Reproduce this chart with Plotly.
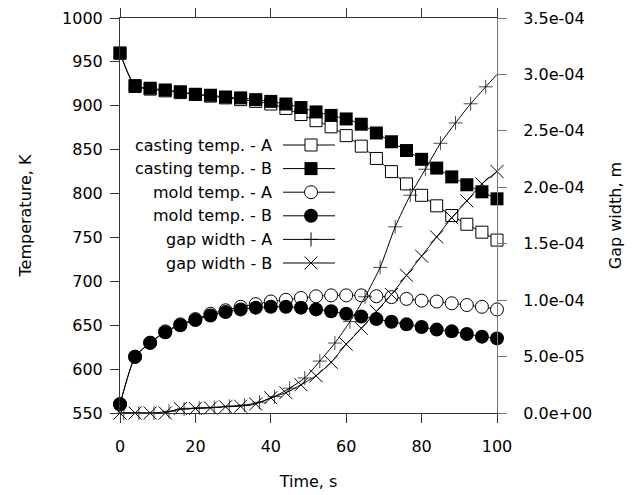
import plotly.graph_objects as go

# ---------------- data ----------------
time = [0, 4, 8, 12, 16, 20, 24, 28, 32, 36, 40, 44, 48, 52, 56, 60, 64, 68, 72, 76, 80, 84, 88, 92, 96, 100]

casting_A = [960, 922, 919, 917, 915, 913, 911, 909, 907, 905, 902, 897, 890, 883, 876, 866,
             854, 840, 825, 811, 798, 786, 775, 765, 756, 747]
casting_B = [960, 923, 920, 918, 916, 913, 912, 910, 909, 907, 905, 902, 898, 893, 889, 885,
             879, 869, 859, 849, 839, 829, 819, 810, 802, 794]
mold_A = [560, 614, 630, 643, 651, 657, 663, 667, 671, 674, 677, 679, 681, 683, 684, 684,
          684, 683, 682, 680, 678, 677, 675, 673, 671, 668]
mold_B = [560, 614, 630, 642, 650, 656, 661, 665, 668, 670, 671, 671, 670, 668, 666, 663,
          660, 657, 654, 651, 648, 645, 643, 640, 637, 635]

gapA_time = [1, 5, 9, 13, 17, 21, 25, 29, 33, 37, 41, 45, 49, 53, 57, 61, 65, 69, 73, 77,
             81, 85, 89, 93, 97, 100]
gap_A = [0, 0, 0, 1.5e-6, 3.5e-6, 4.5e-6, 5e-6, 6e-6, 7e-6, 9.5e-6, 1.45e-5, 2.2e-5, 3.1e-5,
         4.6e-5, 6.2e-5, 8.1e-5, 1.03e-4, 1.29e-4, 1.65e-4, 1.93e-4, 2.16e-4, 2.39e-4, 2.57e-4,
         2.74e-4, 2.89e-4, 3.0e-4]
gap_B = [0, 0, 0, 0, 4e-6, 4e-6, 4.5e-6, 5.5e-6, 6e-6, 8e-6, 1.35e-5, 1.8e-5, 2.5e-5, 3.3e-5,
         4.5e-5, 6.1e-5, 7.5e-5, 9.0e-5, 1.05e-4, 1.22e-4, 1.39e-4, 1.56e-4, 1.73e-4, 1.88e-4,
         2.03e-4, 2.14e-4]

legend_labels = ["casting temp. - A", "casting temp. - B", "mold temp. - A",
                 "mold temp. - B", "gap width - A", "gap width - B"]

left_ticks = list(range(550, 1001, 50))
right_ticks = [i * 5e-5 for i in range(8)]
x_ticks = [0, 20, 40, 60, 80, 100]

# ---------------- styles ----------------
FONT = "DejaVu Sans, Liberation Sans, Arial, sans-serif"
FS = 16
styles = [
    dict(symbol="square", size=12, color="white", line=dict(color="black", width=1)),
    dict(symbol="square", size=13, color="black", line=dict(color="black", width=0)),
    dict(symbol="circle", size=13, color="white", line=dict(color="black", width=1)),
    dict(symbol="circle", size=14, color="black", line=dict(color="black", width=0)),
    dict(symbol="cross-thin-open", size=10, color="black", line=dict(color="black", width=1)),
    dict(symbol="x-thin-open", size=13, color="black", line=dict(color="black", width=1)),
]
LINE = dict(color="black", width=1, shape="spline", smoothing=0.6)

fig = go.Figure()

series = [
    (time, casting_A, "y", styles[0]),
    (time, casting_B, "y", styles[1]),
    (time, mold_A, "y", styles[2]),
    (time, mold_B, "y", styles[3]),
    (gapA_time, gap_A, "y2", styles[4]),
    (time, gap_B, "y2", styles[5]),
]
for i, (xs, ys, yax, st) in enumerate(series):
    mk = dict(st)
    if i == 4:
        # last point is the line end at t=100 (no symbol there)
        mk["size"] = [st["size"]] * (len(xs) - 1) + [0]
    fig.add_trace(go.Scatter(x=xs, y=ys, yaxis=yax, mode="lines+markers",
                             line=LINE, marker=mk, cliponaxis=False,
                             showlegend=False, name=legend_labels[i]))

# ---------------- custom legend (text left, sample right) ----------------
# overlay axis in plot-pixel units: x 0..377 (left->right), y 0..395 (top->bottom)
row_y0, row_dy = 127, 23.6
for i, lab in enumerate(legend_labels):
    yy = row_y0 + i * row_dy
    fig.add_trace(go.Scatter(x=[163, 215], y=[yy, yy], xaxis="x3", yaxis="y3",
                             mode="lines", line=dict(color="black", width=1),
                             showlegend=False, hoverinfo="skip", cliponaxis=False))
    st = dict(styles[i])
    fig.add_trace(go.Scatter(x=[191], y=[yy], xaxis="x3", yaxis="y3",
                             mode="markers", marker=st, showlegend=False,
                             hoverinfo="skip", cliponaxis=False))
    fig.add_annotation(x=154, y=yy, xref="x3", yref="y3", text=lab, showarrow=False,
                       xanchor="right", yanchor="middle",
                       font=dict(family=FONT, size=FS, color="black"))

axis_common = dict(showgrid=False, zeroline=False, ticks="outside", ticklen=9,
                   tickwidth=1, showline=True, linewidth=1,
                   tickfont=dict(family=FONT, size=FS, color="black"))

fig.update_layout(
    width=627, height=487,
    margin=dict(l=112, r=138, t=10, b=82, autoexpand=False),
    paper_bgcolor="white", plot_bgcolor="white",
    font=dict(family=FONT, size=FS, color="black"),
    xaxis=dict(range=[0, 100], tickvals=x_ticks, mirror="ticks", linecolor="#333",
               tickcolor="#333", ticklabelstandoff=10,
               title=dict(text="Time, s", standoff=20, font=dict(family=FONT, size=FS)),
               automargin=False, **axis_common),
    yaxis=dict(range=[550, 1000], tickvals=left_ticks, linecolor="#333", tickcolor="#333",
               ticklabelstandoff=4,
               title=dict(text="Temperature, K", standoff=26, font=dict(family=FONT, size=FS)),
               automargin=False, **axis_common),
    yaxis2=dict(range=[0, 3.5e-4], overlaying="y", side="right", tickvals=right_ticks,
                ticktext=[f"{v:.1e}" for v in right_ticks], linecolor="#777", tickcolor="#777",
                ticklabelstandoff=13,
                title=dict(text="Gap width, m", standoff=18, font=dict(family=FONT, size=FS)),
                automargin=False, **axis_common),
    xaxis3=dict(overlaying="x", range=[0, 377], visible=False, fixedrange=True),
    yaxis3=dict(overlaying="y", range=[395, 0], visible=False, fixedrange=True),
)

fig.write_html("out.html")
